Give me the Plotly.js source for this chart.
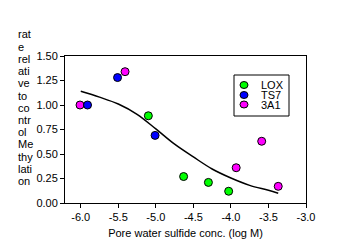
<!DOCTYPE html>
<html>
<head>
<meta charset="utf-8">
<script src="https://cdn.plot.ly/plotly-3.0.1.min.js"></script>
<style>
  body { margin: 0; background: #fff; }
  #chartHanger { width: 351px; height: 252px; }
</style>
</head>
<body>
<div id="chartHanger"></div>
<script>
// Series
const seriesNames = ["LOX", "TS7", "3A1"];
const seriesColors = ["#00ff00", "#0000ff", "#ff00ff"];

const loxX = [-5.10, -4.63, -4.30, -4.03];
const loxY = [0.89, 0.27, 0.21, 0.12];

const ts7X = [-5.91, -5.51, -5.01];
const ts7Y = [1.00, 1.28, 0.69];

const a3a1X = [-6.01, -5.41, -3.93, -3.59, -3.37];
const a3a1Y = [1.00, 1.34, 0.36, 0.63, 0.17];

// fitted curve, traced point by point
const fitX = [-6.0, -5.75, -5.5, -5.25, -5.0, -4.75, -4.5, -4.25, -4.0, -3.75, -3.5, -3.37];
const fitY = [1.14, 1.08, 1.01, 0.905, 0.756, 0.60, 0.47, 0.347, 0.255, 0.18, 0.13, 0.10];

const xTickVals = [-6.0, -5.5, -5.0, -4.5, -4.0, -3.5, -3.0];
const xTickText = ["-6.0", "-5.5", "-5.0", "-4.5", "-4.0", "-3.5", "-3.0"];
const yTickVals = [0, 0.25, 0.5, 0.75, 1.0, 1.25, 1.5];
const yTickText = ["0.00", "0.25", "0.50", "0.75", "1.00", "1.25", "1.50"];

// y title is wrapped into short horizontal pieces in the original
const yTitleLines = ["rat", "e", "rel", "ati", "ve", "to", "co", "ntr", "ol", "Me", "thy", "lati", "on"];

const FONT = "Liberation Sans, Arial, sans-serif";
const W = 351, H = 252;
const M = { l: 65, r: 45, t: 56, b: 49 };
const plotW = W - M.l - M.r;
const plotH = H - M.t - M.b;

// pixel -> paper helpers (for the text/legend placement only)
const px = (x) => (x - M.l) / plotW;
const py = (y) => (H - M.b - y) / plotH;

const markerStyle = (c) => ({
  color: c,
  size: 8,
  line: { color: "#000", width: 1 },
});

const fitLine = {
  x: fitX,
  y: fitY,
  type: "scatter",
  mode: "lines",
  line: { color: "#000", width: 1.5, shape: "spline" },
  hoverinfo: "skip",
};

const a3a1 = {
  x: a3a1X, y: a3a1Y, type: "scatter", mode: "markers",
  name: seriesNames[2], marker: markerStyle(seriesColors[2]),
};
const lox = {
  x: loxX, y: loxY, type: "scatter", mode: "markers",
  name: seriesNames[0], marker: markerStyle(seriesColors[0]),
};
const ts7 = {
  x: ts7X, y: ts7Y, type: "scatter", mode: "markers",
  name: seriesNames[1], marker: markerStyle(seriesColors[1]),
};

const annotations = [];
const shapes = [];

yTitleLines.forEach((t, i) => {
  annotations.push({
    text: t,
    xref: "paper", yref: "paper",
    x: px(16), y: py(34.5 + i * 12.2),
    xanchor: "left", yanchor: "middle",
    showarrow: false,
    font: { family: FONT, size: 11, color: "#000" },
  });
});

// legend box, drawn by hand so rows can sit as tight as the original
shapes.push({
  type: "rect", xref: "paper", yref: "paper",
  x0: px(234), x1: px(289), y0: py(116), y1: py(75),
  line: { color: "#000", width: 1 }, fillcolor: "#fff",
});
const legendRows = [85, 95, 104.5];
seriesNames.forEach((name, i) => {
  shapes.push({
    type: "circle", xref: "paper", yref: "paper",
    xsizemode: "pixel", ysizemode: "pixel",
    xanchor: px(244), yanchor: py(legendRows[i]),
    x0: -4, x1: 4, y0: -3.5, y1: 3.5,
    fillcolor: seriesColors[i], line: { color: "#000", width: 1 },
  });
  annotations.push({
    text: name,
    xref: "paper", yref: "paper",
    x: px(259), y: py(legendRows[i]),
    xanchor: "left", yanchor: "middle",
    showarrow: false,
    font: { family: FONT, size: 11, color: "#000" },
  });
});

const axisCommon = {
  showline: true,
  mirror: true,
  linecolor: "#000",
  linewidth: 1,
  ticks: "outside",
  ticklen: 4,
  tickcolor: "#000",
  tickwidth: 1,
  showgrid: false,
  zeroline: false,
  tickfont: { family: FONT, size: 11, color: "#000" },
  tickmode: "array",
};

const layout = {
  width: W,
  height: H,
  margin: M,
  showlegend: false,
  paper_bgcolor: "#fff",
  plot_bgcolor: "#fff",
  font: { family: FONT, size: 11, color: "#000" },
  xaxis: Object.assign({}, axisCommon, {
    range: [-6.21, -3.0],
    tickvals: xTickVals,
    ticktext: xTickText,
    title: {
      text: "Pore water sulfide conc. (log M)",
      font: { family: FONT, size: 11, color: "#000" },
      standoff: 7,
    },
  }),
  yaxis: Object.assign({}, axisCommon, {
    range: [0, 1.5],
    tickvals: yTickVals,
    ticktext: yTickText,
  }),
  shapes: shapes,
  annotations: annotations,
};

Plotly.newPlot("chartHanger", [fitLine, a3a1, lox, ts7], layout, { staticPlot: true });
</script>
</body>
</html>
